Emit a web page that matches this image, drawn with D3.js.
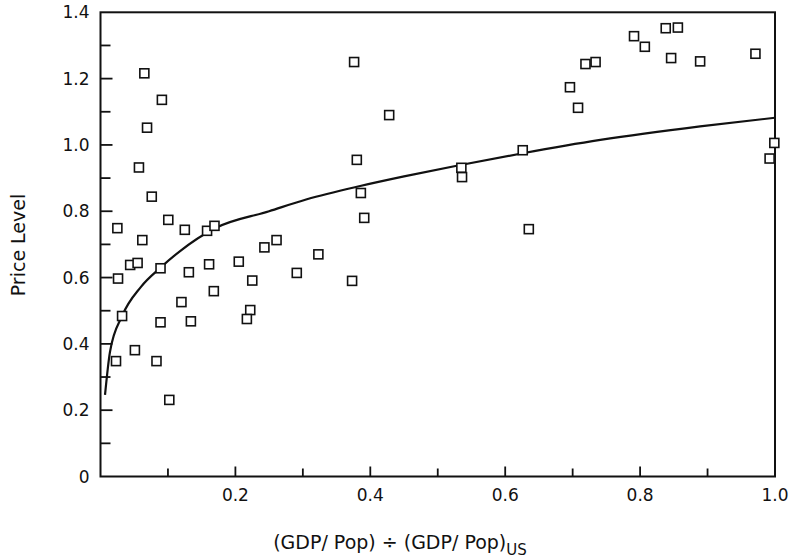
<!DOCTYPE html>
<html>
<head>
<meta charset="utf-8">
<script src="https://cdn.jsdelivr.net/npm/d3@7"></script>
<style>
  body { margin: 0; background: #fff; }
  text { font-family: "DejaVu Sans", sans-serif; fill: #111; }
</style>
</head>
<body>
<svg width="799" height="559"></svg>
<script>
// data: GDP per head relative to the US, and price level
let gdpRatio = [0.025, 0.1005, 0.125, 0.158, 0.169, 0.062, 0.076, 0.044, 0.055, 0.089,
    0.026, 0.131, 0.161, 0.205, 0.243, 0.261, 0.323, 0.291, 0.225, 0.168,
    0.120, 0.032, 0.089, 0.134, 0.222, 0.217, 0.051, 0.023, 0.083, 0.102,
    0.065, 0.091, 0.069, 0.057,
    0.376, 0.380, 0.386, 0.391, 0.373, 0.428, 0.535, 0.536, 0.626, 0.635,
    0.696, 0.708, 0.719, 0.734, 0.791, 0.807, 0.838, 0.856, 0.846, 0.889,
    0.971, 0.999, 0.992];
let priceLevel = [0.749, 0.774, 0.744, 0.741, 0.756, 0.713, 0.844, 0.638, 0.644, 0.628,
    0.597, 0.616, 0.640, 0.648, 0.691, 0.713, 0.670, 0.614, 0.591, 0.559,
    0.526, 0.484, 0.465, 0.468, 0.502, 0.475, 0.381, 0.348, 0.348, 0.231,
    1.216, 1.136, 1.052, 0.932,
    1.250, 0.955, 0.855, 0.780, 0.590, 1.090, 0.931, 0.903, 0.984, 0.746,
    1.174, 1.112, 1.244, 1.250, 1.328, 1.296, 1.352, 1.354, 1.262, 1.252,
    1.275, 1.006, 0.959];

// fitted curve
let curveX = [0.0067, 0.014, 0.032, 0.06, 0.089, 0.118, 0.169, 0.25, 0.306, 0.385, 0.45, 0.53, 0.626, 0.741, 0.889, 1.0];
let curveY = [0.246, 0.375, 0.484, 0.572, 0.630, 0.680, 0.748, 0.800, 0.836, 0.876, 0.905, 0.938, 0.975, 1.015, 1.056, 1.082];

let xTicks = [0.2, 0.4, 0.6, 0.8, 1.0];
let xTickLabels = ["0.2", "0.4", "0.6", "0.8", "1.0"];
let yTicks = [0, 0.2, 0.4, 0.6, 0.8, 1.0, 1.2, 1.4];
let yTickLabels = ["0", "0.2", "0.4", "0.6", "0.8", "1.0", "1.2", "1.4"];
let minorTicks = [0.1, 0.3, 0.5, 0.7, 0.9, 1.1, 1.3];

let svg = d3.select("svg"),
    pLeft = 100.5, pRight = 775, pTop = 12.3, pBottom = 476.5;

let x = d3.scaleLinear().domain([0, 1]).range([pLeft, pRight]);
let y = d3.scaleLinear().domain([0, 1.4]).range([pBottom, pTop]);

// frame
svg.append("rect")
    .attr("x", pLeft).attr("y", pTop)
    .attr("width", pRight - pLeft).attr("height", pBottom - pTop)
    .attr("fill", "none").attr("stroke", "#111").attr("stroke-width", 2);

// ticks point into the plot
let g = svg.append("g").attr("stroke", "#111").attr("stroke-width", 1.8);
g.selectAll(".xmaj").data(xTicks.slice(0, 4)).enter().append("line")
    .attr("x1", d => x(d)).attr("x2", d => x(d))
    .attr("y1", pBottom).attr("y2", pBottom - 10);
g.selectAll(".xmin").data(minorTicks.filter(d => d < 1)).enter().append("line")
    .attr("x1", d => x(d)).attr("x2", d => x(d))
    .attr("y1", pBottom).attr("y2", pBottom - 8);
g.selectAll(".ymaj").data(yTicks.slice(1, 7)).enter().append("line")
    .attr("x1", pLeft).attr("x2", pLeft + 12)
    .attr("y1", d => y(d)).attr("y2", d => y(d));
g.selectAll(".ymin").data(minorTicks).enter().append("line")
    .attr("x1", pLeft).attr("x2", pLeft + 10)
    .attr("y1", d => y(d)).attr("y2", d => y(d));

// tick labels
svg.selectAll(".xl").data(xTicks).enter().append("text")
    .attr("x", d => x(d)).attr("y", pBottom + 24)
    .attr("text-anchor", "middle").attr("font-size", 17)
    .text((d, i) => xTickLabels[i]);
svg.selectAll(".yl").data(yTicks).enter().append("text")
    .attr("x", pLeft - 11).attr("y", d => y(d) + 6)
    .attr("text-anchor", "end").attr("font-size", 17)
    .text((d, i) => yTickLabels[i]);

// axis titles
svg.append("text")
    .attr("transform", "translate(25,245) rotate(-90)")
    .attr("text-anchor", "middle").attr("font-size", 19)
    .text("Price Level");
let xt = svg.append("text")
    .attr("x", 400).attr("y", 549)
    .attr("text-anchor", "middle").attr("font-size", 19);
xt.append("tspan").text("(GDP/ Pop) \u00F7 (GDP/ Pop)");
xt.append("tspan").attr("dy", 6).attr("font-size", 15).text("US");

// fitted curve
let line = d3.line()
    .x(d => x(d[0])).y(d => y(d[1]))
    .curve(d3.curveMonotoneX);
svg.append("path")
    .datum(curveX.map((v, i) => [v, curveY[i]]))
    .attr("d", line)
    .attr("fill", "none").attr("stroke", "#111").attr("stroke-width", 2.2);

// data points
svg.selectAll(".pt").data(gdpRatio).enter().append("rect")
    .attr("x", d => x(d) - 4.5)
    .attr("y", (d, i) => y(priceLevel[i]) - 4.5)
    .attr("width", 9).attr("height", 9)
    .attr("fill", "#fff").attr("stroke", "#111").attr("stroke-width", 1.6);
</script>
</body>
</html>
